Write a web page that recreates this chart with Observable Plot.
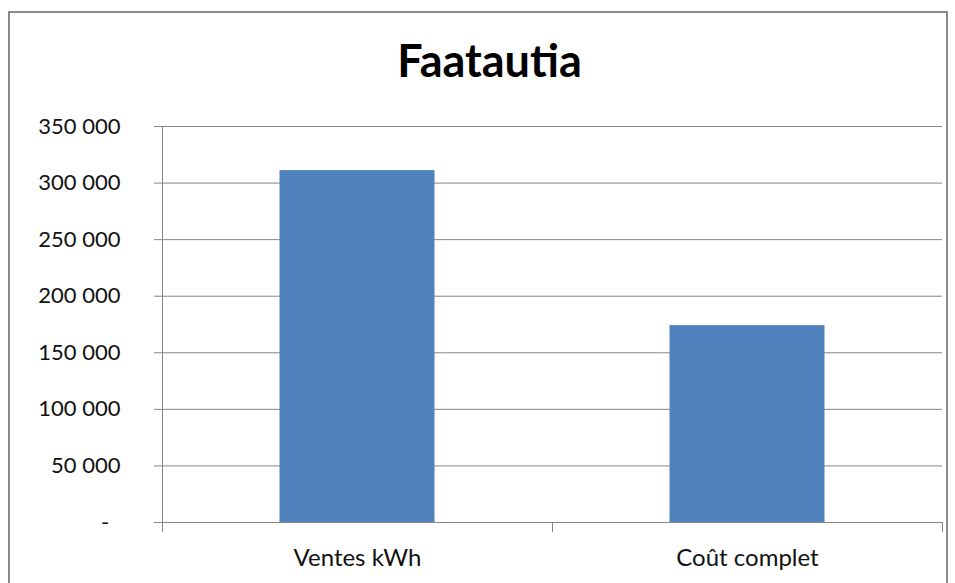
<!DOCTYPE html>
<html>
<head>
<meta charset="utf-8">
<script src="https://cdn.jsdelivr.net/npm/d3@7"></script>
<script src="https://cdn.jsdelivr.net/npm/@observablehq/plot@0.6"></script>
<style>
  html, body { margin: 0; padding: 0; background: #fff; overflow: hidden; }
  #wrap { position: relative; width: 955px; height: 583px; overflow: hidden; background: #fff; }
  #title { height: 100px; box-sizing: border-box; padding-left: 24px; padding-top: 38px;
           text-align: center; font-family: Lato, "Open Sans", sans-serif; font-weight: bold;
           font-size: 45px; line-height: 45px; color: #000; }
  #border { position: absolute; left: 8px; top: 11px; width: 940px; height: 620px;
            border: 2px solid #8a8a8a; box-sizing: border-box; pointer-events: none; z-index: 2; }
  #chart svg { display: block; background: transparent; }
</style>
</head>
<body>
<div id="wrap">
  <div id="title">Faatautia</div>
  <div id="chart"></div>
  <div id="border"></div>
</div>
<script>
const categories = ["Ventes kWh", "Coût complet"];
const values = [311000, 174000];
const yTicks = [0, 50000, 100000, 150000, 200000, 250000, 300000, 350000];

const data = categories.map((c, i) => ({category: c, value: values[i]}));
const fmt = d => d === 0 ? "-\u00a0\u00a0" : d3.format(",")(d).replace(/,/g, "\u00a0");
const gray = "#868686";

const chart = Plot.plot({
  width: 955,
  height: 483,
  marginTop: 26,
  marginBottom: 61,
  marginLeft: 162,
  marginRight: 13,
  style: {fontFamily: "Lato, 'Open Sans', sans-serif", fontSize: "22px", color: "#111", background: "transparent", overflow: "visible"},
  x: {domain: categories, padding: 0, label: null},
  y: {domain: [0, 350000], label: null},
  marks: [
    Plot.gridY(yTicks, {stroke: gray, strokeOpacity: 1, strokeWidth: 1}),
    Plot.axisY(yTicks, {tickSize: 8, tickPadding: 34, stroke: gray, tickFormat: fmt, label: null}),
    Plot.barY(data, {x: "category", y: "value", fill: "#4F81BD", insetLeft: 117.5, insetRight: 117.5}),
    Plot.axisX({tickSize: 0, tickPadding: 26, label: null, fontSize: 24}),
    Plot.ruleX(categories.slice(0, 1), {x: d => d, dx: -195, y1: 350000, y2: 0, insetBottom: -10, stroke: gray}),
    Plot.ruleX(categories, {x: d => d, dx: -195, y1: 0, y2: 0, insetBottom: -10, stroke: gray}),
    Plot.ruleX(categories.slice(-1), {x: d => d, dx: 195, y1: 0, y2: 0, insetBottom: -10, stroke: gray}),
    Plot.ruleY([0], {stroke: gray})
  ]
});
document.getElementById("chart").appendChild(chart);
</script>
</body>
</html>
